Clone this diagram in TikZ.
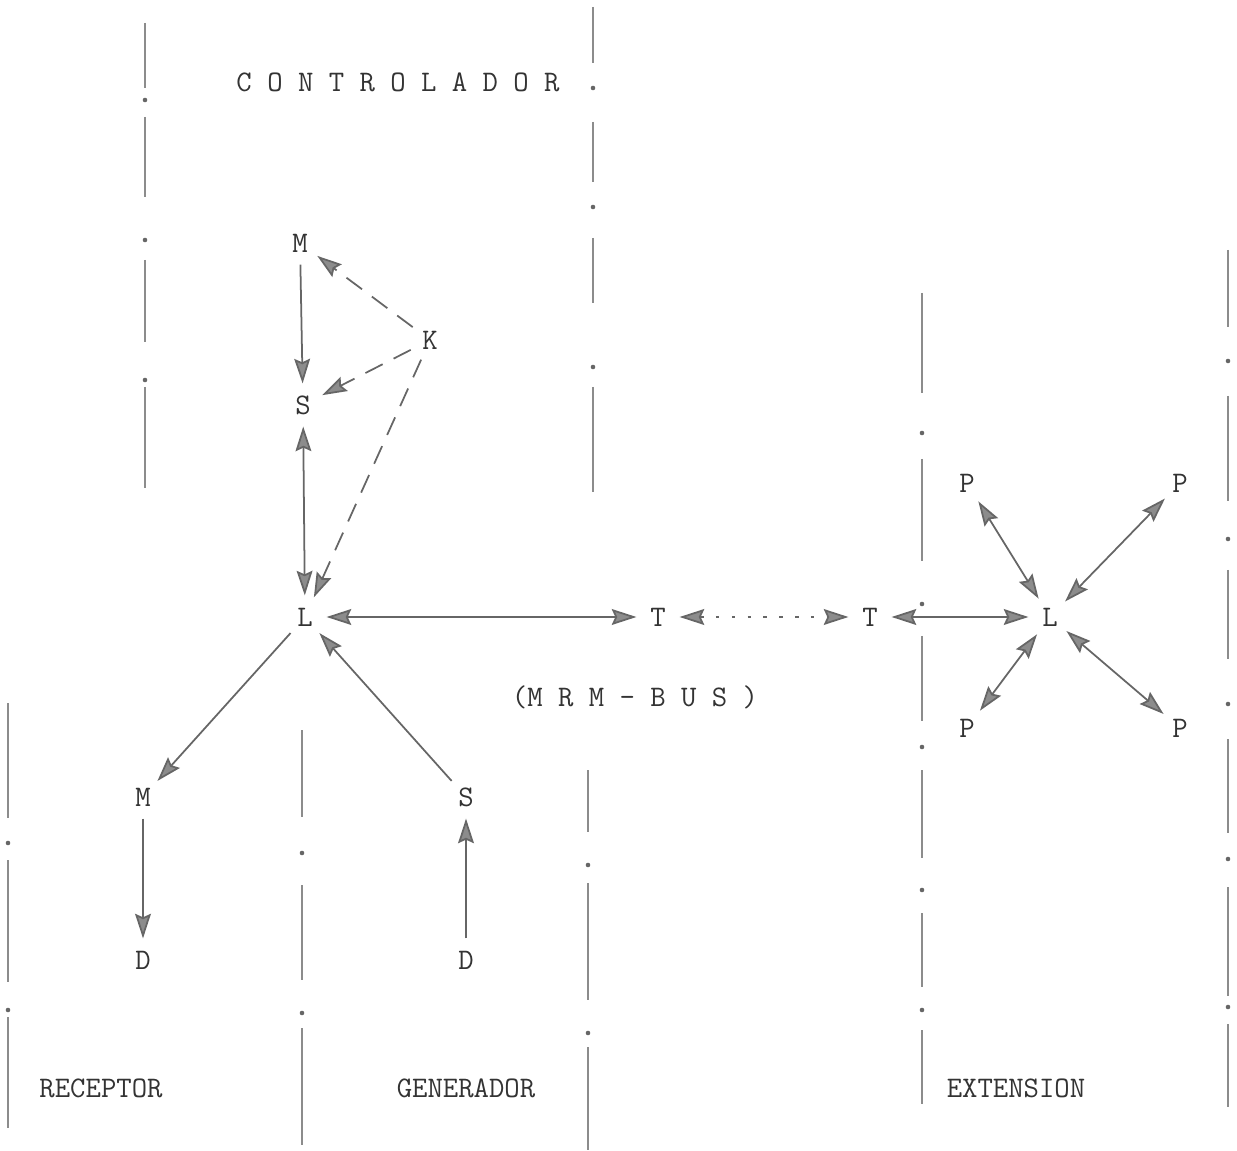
\documentclass[tikz,border=0pt]{standalone}
\usepackage{fontspec}
\usetikzlibrary{arrows.meta}
\tikzset{
  >={Stealth[length=14pt,width=9pt,inset=2pt,fill=black!45]},
  tw/.style={font=\ttfamily\fontsize{17}{20}\selectfont,text=black!80},
  let/.style={tw,circle,inner sep=0pt,minimum size=0.85cm},
  link/.style={draw=black!60,line width=1pt},
  dashline/.style={dash pattern=on 11pt off 7pt},
  dotline/.style={dash pattern=on 2pt off 7pt},
  wall/.style={draw=black!45,line width=1.4pt}
}
\begin{document}
\begin{tikzpicture}[x=0.02cm,y=-0.02cm]
\useasboundingbox (0,0) rectangle (1237,1151);
% column walls
\foreach \x/\a/\b in {145/23/88,145/117/197,145/260/342,145/387/488,
  593/7/63,593/122/182,593/238/303,593/387/492,
  8/703/818,8/860/982,8/1017/1128,
  302/730/817,302/885/980,302/1028/1145,
  588/770/832,588/883/1000,588/1047/1150,
  922/293/393,922/459/561,922/636/721,922/770/858,922/913/987,922/1030/1104,
  1228/250/327,1228/396/501,1228/570/659,1228/739/833,1228/887/996,1228/1024/1107}
  \draw[wall] (\x,\a) -- (\x,\b);
\foreach \x/\y in {145/100,145/240,145/380,593/88,593/207,593/367,
  8/843,8/1010,302/853,302/1013,588/865,588/1033,
  922/433,922/604,922/747,922/890,922/1010,
  1228/361,1228/539,1228/704,1228/859,1228/1007}
  \fill[black!60] (\x,\y) circle (1.3pt);
% titles
\node[tw] (ctl) at (398,82) {C O N T R O L A D O R};
\node[tw] (bus) at (635,697) {(M R M - B U S )};
\node[tw] (rec) at (101,1088) {RECEPTOR};
\node[tw] (gen) at (466,1088) {GENERADOR};
\node[tw] (ext) at (1016,1088) {EXTENSION};
% controlador
\node[let] (Mc) at (300,243) {M};
\node[let] (K) at (430,340) {K};
\node[let] (Sc) at (303,405) {S};
\node[let] (Lc) at (305,617) {L};
\draw[->,link] (Mc) -- (Sc);
\draw[<->,link] (Sc) -- (Lc);
\draw[->,link,dashline] (K) -- (Mc);
\draw[->,link,dashline] (K) -- (Sc);
\draw[->,link,dashline] (K) -- (Lc);
% bus
\node[let] (Ta) at (658,617) {T};
\node[let] (Tb) at (870,617) {T};
\node[let] (Le) at (1050,617) {L};
\draw[<->,link] (Lc) -- (Ta);
\draw[<->,link,dotline] (Ta) -- (Tb);
\draw[<->,link] (Tb) -- (Le);
\foreach \x/\y/\name in {967/483/Pa,1180/483/Pb,967/728/Pc,1180/728/Pd}
{
\node[let] (\name) at (\x,\y) {P};
\draw[<->,link] (Le) -- (\name);
}
% receptor, generador
\node[let] (Mr) at (143,797) {M};
\node[let] (Dr) at (143,960) {D};
\node[let] (Sg) at (466,797) {S};
\node[let] (Dg) at (466,960) {D};
\draw[->,link] (Lc) -- (Mr);
\draw[->,link] (Mr) -- (Dr);
\draw[->,link] (Sg) -- (Lc);
\draw[->,link] (Dg) -- (Sg);
\end{tikzpicture}
\end{document}
